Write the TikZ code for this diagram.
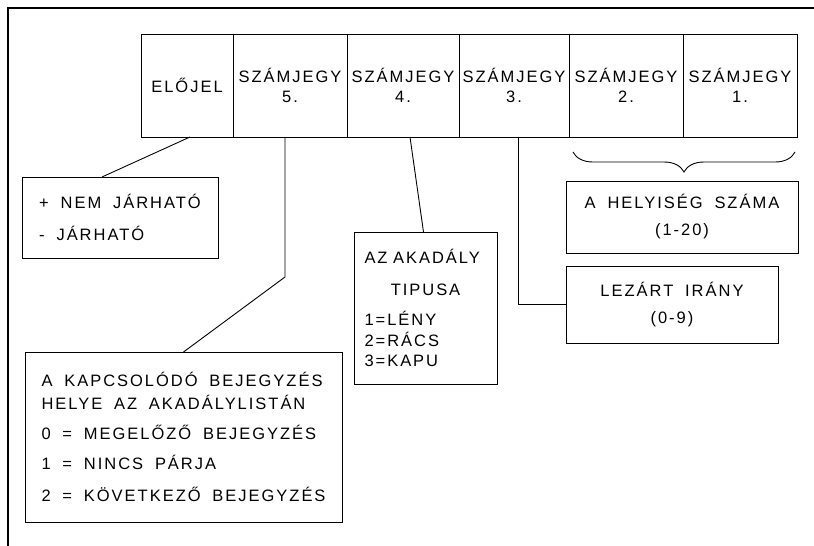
\documentclass[tikz,border=0pt]{standalone}
\usepackage{fontspec}
\setmainfont{Liberation Sans}[LetterSpace=12,WordSpace=1.8]
\usetikzlibrary{decorations.pathreplacing}

\tikzset{
  cell/.style={draw, minimum height=103pt, inner sep=0pt, outer sep=0pt, align=center},
  note/.style={draw, inner sep=0pt, outer sep=0pt, align=left},
}

\begin{document}
\begin{tikzpicture}[x=1pt,y=-1pt,line width=0.9pt,font=\fontsize{16.5}{20}\selectfont]
\useasboundingbox (0,0) rectangle (814,546);
\draw[line width=1.4pt] (814,8) -- (8,8) -- (8,546);
% the record
\node[cell,minimum width=92pt] (sign) at (187,85.5) {ELŐJEL};
\node[cell,minimum width=114pt] (d5) at (290,85.5) {SZÁMJEGY\\5.};
\node[cell,minimum width=112pt] (d4) at (403,85.5) {SZÁMJEGY\\4.};
\node[cell,minimum width=110pt] (d3) at (514,85.5) {SZÁMJEGY\\3.};
\node[cell,minimum width=114pt] (d2) at (626,85.5) {SZÁMJEGY\\2.};
\node[cell,minimum width=114pt] (d1) at (740,85.5) {SZÁMJEGY\\1.};
% the notes
\node[note,minimum width=196pt,minimum height=81pt] (signnote) at (120,217.5)
  {+ NEM JÁRHATÓ\\[12pt]- JÁRHATÓ};
\node[note,minimum width=317pt,minimum height=170pt] (linknote) at (183.5,437)
  {A KAPCSOLÓDÓ BEJEGYZÉS\\[3pt]HELYE AZ AKADÁLYLISTÁN\\[10pt]0 = MEGELŐZŐ BEJEGYZÉS\\[10pt]1 = NINCS PÁRJA\\[12pt]2 = KÖVETKEZŐ BEJEGYZÉS};
\node[note,minimum width=143pt,minimum height=152pt,text width=122pt] (kind) at (425.5,308)
  {AZ AKADÁLY\\[12pt]\hfill TIPUSA\hfill\null\\[10pt]1=LÉNY\\[1pt]2=RÁCS\\3=KAPU};
\node[note,minimum width=232pt,minimum height=72pt,align=center] (room) at (682,217)
  {A HELYISÉG SZÁMA\\[7pt](1-20)};
\node[note,minimum width=212pt,minimum height=77pt,align=center] (dir) at (672,304.5)
  {LEZÁRT IRÁNY\\[7pt](0-9)};
% connectors
\coordinate (bend5) at (285,277);
\draw ([xshift=3]sign.south) -- ([xshift=-18]signnote.north);
\draw ([xshift=-5]d5.south) -- (bend5) -- (linknote.north);
\draw ([xshift=7]d4.south) -- ([xshift=-2]kind.north);
\draw ([xshift=4]d3.south) |- (dir.west);
\coordinate (bl) at ([shift={(4,15)}]d2.south west);
\coordinate (br) at ([shift={(-2,15)}]d1.south east);
\draw[decorate,decoration={brace,mirror,amplitude=20pt}] (bl) -- (br);
\end{tikzpicture}
\end{document}
